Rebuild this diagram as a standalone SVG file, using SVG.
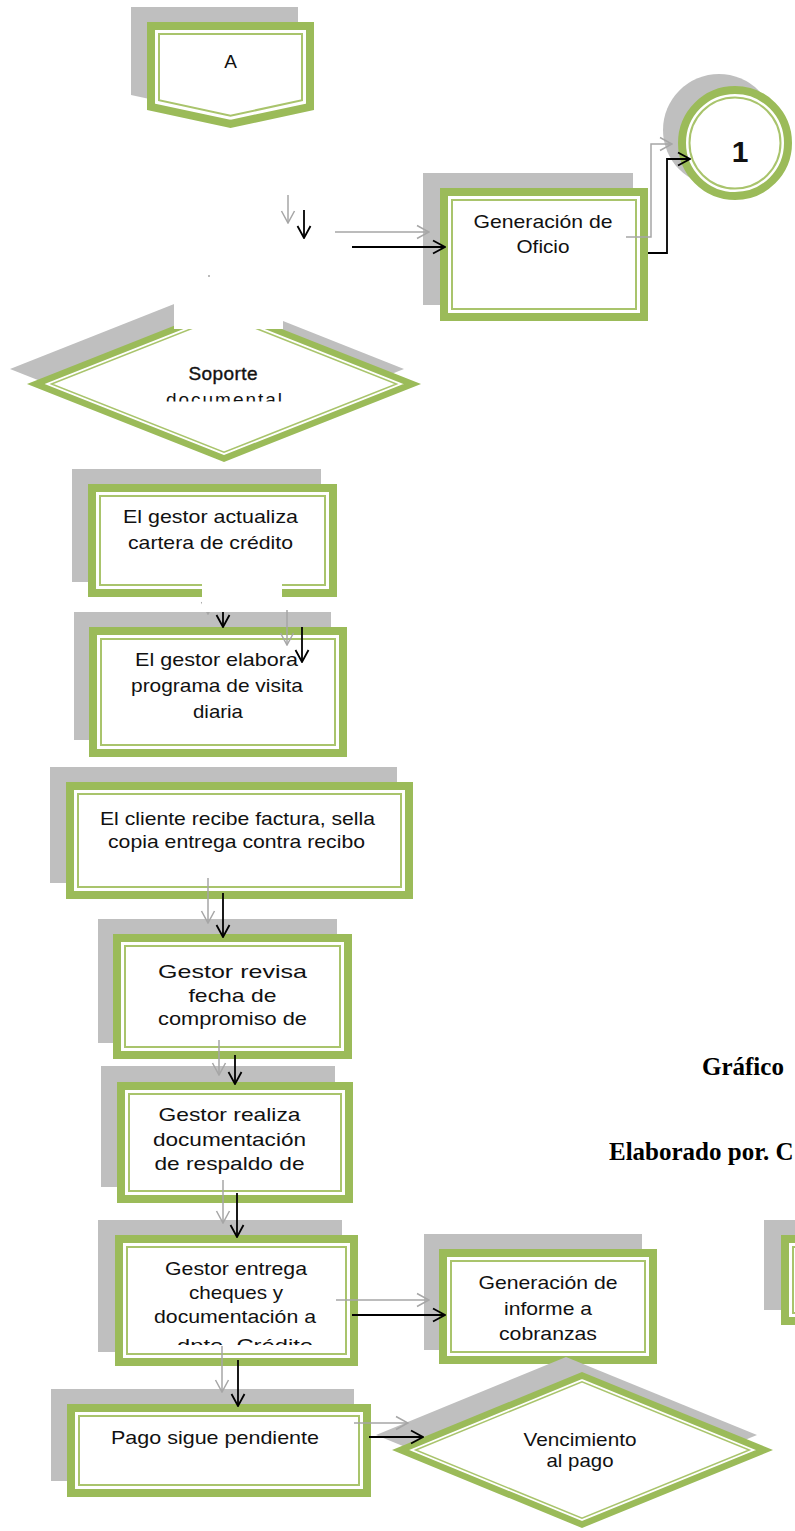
<svg xmlns="http://www.w3.org/2000/svg" width="795" height="1531" viewBox="0 0 795 1531">
  <style>
    .sh{fill:#BFBFBF}
    .band{fill:#fff;stroke:#9BBB59;stroke-width:8}
    .thin{fill:none;stroke:#A9C46C;stroke-width:2}
    .dband{fill:#fff;stroke:#9BBB59;stroke-width:6.5;stroke-linejoin:miter}
    .dthin{fill:none;stroke:#A9C46C;stroke-width:1.5}
    .t{font-family:"Liberation Sans",Arial,sans-serif;font-size:19px;fill:#111;text-anchor:middle}
    .cap{font-family:"Liberation Serif","Times New Roman",serif;font-weight:bold;font-size:25px;fill:#000}
    .k{fill:none;stroke:#000;stroke-width:1.8}
    .g{fill:none;stroke:#A6A6A6;stroke-width:1.5}
    .mask{fill:#fff}
  </style>
  <defs>
    <marker id="hk" viewBox="0 0 14 16" refX="13" refY="8" markerWidth="14" markerHeight="16" orient="auto" markerUnits="userSpaceOnUse">
      <path d="M1,1.5 L13,8 L1,14.5" fill="none" stroke="#000" stroke-width="1.8"/>
    </marker>
    <marker id="hg" viewBox="0 0 14 16" refX="13" refY="8" markerWidth="14" markerHeight="16" orient="auto" markerUnits="userSpaceOnUse">
      <path d="M1,1.5 L13,8 L1,14.5" fill="none" stroke="#A6A6A6" stroke-width="1.5"/>
    </marker>
    <clipPath id="clipDoc"><rect x="100" y="380" width="250" height="21.5"/></clipPath>
    <clipPath id="clipDpto"><rect x="130" y="1330" width="220" height="15"/></clipPath>
  </defs>

  <rect width="795" height="1531" fill="#fff"/>

  <!-- off-page connector A -->
  <g id="node-a">
    <path class="sh" d="M131,7 H298 V95 L214.5,113 L131,95 Z"/>
    <path class="band" d="M151,26 H310 V106.8 L230.5,123.9 L151,106.8 Z"/>
    <path class="thin" d="M159,34 H302 V100.3 L230.5,115.7 L159,100.3 Z"/>
    <text class="t" x="230.5" y="68" font-size="18">A</text>
  </g>

  <!-- on-page connector 1 -->
  <g id="node-1">
    <circle class="sh" cx="719" cy="130" r="56"/>
    <circle class="band" cx="735" cy="143" r="53"/>
    <circle class="thin" cx="735" cy="143" r="45.5"/>
    <text x="740" y="162" text-anchor="middle" font-family="Liberation Sans, Arial, sans-serif" font-size="30" font-weight="bold" fill="#111">1</text>
  </g>

  <g id="node-oficio">
    <rect class="sh" x="423" y="173" width="210" height="132"/>
    <rect class="band" x="444" y="192" width="200" height="125"/>
    <rect class="thin" x="452" y="200" width="184" height="109"/>
    <text class="t" x="543" y="228" textLength="139" lengthAdjust="spacingAndGlyphs">Generación de</text>
    <text class="t" x="543" y="253" textLength="53" lengthAdjust="spacingAndGlyphs">Oficio</text>
  </g>

  <g id="node-soporte">
    <polygon class="sh" points="10,369 207,291 404,369 207,447"/>
    <polygon class="dband" points="35.8,384 224,309.5 412.2,384 224,458.5"/>
    <polygon class="dthin" points="51.5,384 224,315.7 396.5,384 224,452.3"/>
    <text class="t" x="223" y="380" font-size="17" textLength="69" fill="#1a1a1a" stroke="#1a1a1a" stroke-width="0.4">Soporte</text>
    <text class="t" x="224" y="406" font-size="17" textLength="116" fill="#8a8a8a" clip-path="url(#clipDoc)">documental</text>
  </g>

  <g id="node-actualiza">
    <rect class="sh" x="72" y="469" width="249" height="113"/>
    <rect class="band" x="92" y="488" width="241" height="105"/>
    <rect class="thin" x="100" y="496" width="225" height="89"/>
    <text class="t" x="210.5" y="523" textLength="175" lengthAdjust="spacingAndGlyphs">El gestor actualiza</text>
    <text class="t" x="210.5" y="549" textLength="165" lengthAdjust="spacingAndGlyphs">cartera de crédito</text>
  </g>

  <g id="node-programa">
    <rect class="sh" x="74" y="612" width="257" height="128"/>
    <rect class="band" x="93" y="631" width="250" height="122"/>
    <rect class="thin" x="101" y="639" width="234" height="106"/>
    <text class="t" x="216.5" y="666" textLength="163" lengthAdjust="spacingAndGlyphs">El gestor elabora</text>
    <text class="t" x="217" y="692" textLength="172" lengthAdjust="spacingAndGlyphs">programa de visita</text>
    <text class="t" x="218" y="718" textLength="50" lengthAdjust="spacingAndGlyphs">diaria</text>
  </g>

  <g id="node-factura">
    <rect class="sh" x="50" y="767" width="347" height="116"/>
    <rect class="band" x="70" y="786" width="339" height="109"/>
    <rect class="thin" x="78" y="794" width="323" height="93"/>
    <text class="t" x="237.5" y="825" textLength="275" lengthAdjust="spacingAndGlyphs">El cliente recibe factura, sella</text>
    <text class="t" x="236.5" y="848" textLength="257" lengthAdjust="spacingAndGlyphs">copia entrega contra recibo</text>
  </g>

  <g id="node-revisa">
    <rect class="sh" x="98" y="919" width="239" height="124"/>
    <rect class="band" x="117" y="938" width="231" height="117"/>
    <rect class="thin" x="125" y="946" width="215" height="101"/>
    <text class="t" x="232.5" y="978" textLength="149" lengthAdjust="spacingAndGlyphs">Gestor revisa</text>
    <text class="t" x="232.5" y="1002" textLength="88" lengthAdjust="spacingAndGlyphs">fecha de</text>
    <text class="t" x="232.5" y="1025" textLength="149" lengthAdjust="spacingAndGlyphs">compromiso de</text>
  </g>

  <g id="node-respaldo">
    <rect class="sh" x="101" y="1066" width="234" height="121"/>
    <rect class="band" x="121" y="1086" width="228" height="113"/>
    <rect class="thin" x="129" y="1094" width="212" height="97"/>
    <text class="t" x="229.5" y="1121" textLength="142" lengthAdjust="spacingAndGlyphs">Gestor realiza</text>
    <text class="t" x="229.5" y="1146" textLength="153" lengthAdjust="spacingAndGlyphs">documentación</text>
    <text class="t" x="229.5" y="1170" textLength="150" lengthAdjust="spacingAndGlyphs">de respaldo de</text>
  </g>

  <g id="node-entrega">
    <rect class="sh" x="98" y="1220" width="244" height="132"/>
    <rect class="band" x="119" y="1239" width="235" height="123"/>
    <rect class="thin" x="127" y="1247" width="219" height="107"/>
    <text class="t" x="236" y="1275" textLength="142" lengthAdjust="spacingAndGlyphs">Gestor entrega</text>
    <text class="t" x="236" y="1299" textLength="94" lengthAdjust="spacingAndGlyphs">cheques y</text>
    <text class="t" x="235" y="1323" textLength="162" lengthAdjust="spacingAndGlyphs">documentación a</text>
    <text class="t" x="245" y="1352" textLength="136" lengthAdjust="spacingAndGlyphs" clip-path="url(#clipDpto)">dpto. Crédito</text>
  </g>

  <g id="node-informe">
    <rect class="sh" x="424" y="1234" width="218" height="116"/>
    <rect class="band" x="443" y="1253" width="210" height="107"/>
    <rect class="thin" x="451" y="1261" width="194" height="91"/>
    <text class="t" x="548" y="1289" textLength="139" lengthAdjust="spacingAndGlyphs">Generación de</text>
    <text class="t" x="548" y="1315" textLength="88" lengthAdjust="spacingAndGlyphs">informe a</text>
    <text class="t" x="548" y="1340" textLength="98" lengthAdjust="spacingAndGlyphs">cobranzas</text>
  </g>

  <g id="node-edge-right">
    <rect class="sh" x="764" y="1220" width="300" height="90"/>
    <rect class="band" x="785" y="1239" width="300" height="82"/>
    <rect class="thin" x="793" y="1247" width="300" height="66"/>
  </g>

  <g id="node-pendiente">
    <rect class="sh" x="51" y="1389" width="303" height="92"/>
    <rect class="band" x="71" y="1408" width="296" height="85"/>
    <rect class="thin" x="79" y="1416" width="280" height="69"/>
    <text class="t" x="215" y="1444" textLength="208" lengthAdjust="spacingAndGlyphs">Pago sigue pendiente</text>
  </g>

  <g id="node-vencimiento">
    <polygon class="sh" points="376,1435 566,1357 757,1435 566,1513"/>
    <polygon class="dband" points="400.6,1450 582,1375.5 764.4,1450 582,1524.5"/>
    <polygon class="dthin" points="415.7,1450 582,1381.7 749.3,1450 582,1518.3"/>
    <text class="t" x="580" y="1446" textLength="113" lengthAdjust="spacingAndGlyphs">Vencimiento</text>
    <text class="t" x="580" y="1467" textLength="67" lengthAdjust="spacingAndGlyphs">al pago</text>
  </g>

  <g id="caption">
    <text class="cap" x="702" y="1075">Gráfico</text>
    <text class="cap" x="609" y="1160">Elaborado por. C</text>
  </g>

  <g id="connectors">
    <path class="g" d="M288,195 V223" marker-end="url(#hg)"/>
    <path class="k" d="M304,210 V238" marker-end="url(#hk)"/>
    <path class="g" d="M335,232 H429" marker-end="url(#hg)"/>
    <path class="k" d="M352,247 H445" marker-end="url(#hk)"/>
    <path class="g" d="M626,237 H651 V144 H672" marker-end="url(#hg)"/>
    <path class="k" d="M648,253 H667 V159 H690" marker-end="url(#hk)"/>
    <path class="g" d="M208,590 V614" marker-end="url(#hg)"/>
    <path class="k" d="M223,590 V627" marker-end="url(#hk)"/>
    <path class="g" d="M287,610 V645" marker-end="url(#hg)"/>
    <path class="k" d="M302,627 V662" marker-end="url(#hk)"/>
    <path class="g" d="M208,878 V923" marker-end="url(#hg)"/>
    <path class="k" d="M223,893 V937" marker-end="url(#hk)"/>
    <path class="g" d="M219,1040 V1075" marker-end="url(#hg)"/>
    <path class="k" d="M235,1055 V1084" marker-end="url(#hk)"/>
    <path class="g" d="M223,1180 V1223" marker-end="url(#hg)"/>
    <path class="k" d="M237,1193 V1237" marker-end="url(#hk)"/>
    <path class="g" d="M336,1300 H429" marker-end="url(#hg)"/>
    <path class="k" d="M352,1315 H445" marker-end="url(#hk)"/>
    <path class="g" d="M222,1346 V1392" marker-end="url(#hg)"/>
    <path class="k" d="M238,1360 V1406" marker-end="url(#hk)"/>
    <path class="g" d="M354,1423 H408" marker-end="url(#hg)"/>
    <path class="k" d="M369,1437 H423" marker-end="url(#hk)"/>
  </g>

  <!-- blank patches lying over parts of the chart -->
  <g id="patches">
    <rect class="mask" x="174" y="265" width="109" height="64"/>
    <rect x="208" y="275" width="2" height="2" fill="#BBBBBB"/>
    <rect class="mask" x="202" y="582" width="80" height="30"/>
  </g>
</svg>
